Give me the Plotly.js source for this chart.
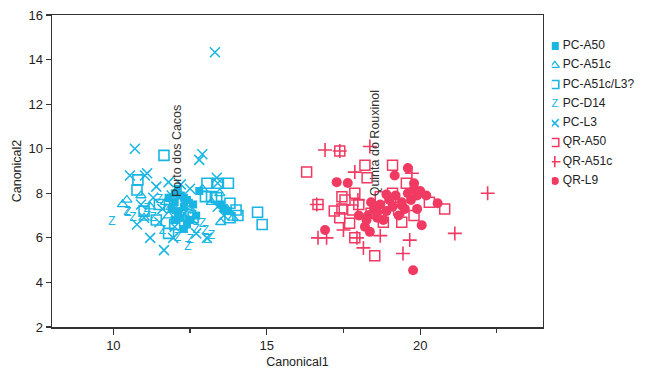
<!DOCTYPE html>
<html><head><meta charset="utf-8">
<script src="https://cdn.plot.ly/plotly-3.0.1.min.js"></script>
<style>html,body{margin:0;padding:0;background:#fff}#chart{width:649px;height:378px}</style>
</head><body><div id="chart"></div>
<script>
// ---- data ----
const seriesNames = ["PC-A50","PC-A51c","PC-A51c/L3?","PC-D14","PC-L3","QR-A50","QR-A51c","QR-L9"];
const groupLabels = ["Porto dos Cacos","Quinta do Rouxinol"];

const pcA50_x = [12.0,12.1,12.2,12.0,12.3,12.1,12.4,11.9,12.2,12.4,12.3,12.5,12.6,13.5,13.6,13.7,12.8,11.8,12.0,12.7,12.1,12.3];
const pcA50_y = [8.0,8.2,7.9,7.6,7.4,7.2,7.7,7.3,6.9,6.6,6.4,6.8,7.5,7.5,7.3,7.2,8.1,7.8,6.8,7.0,7.0,7.8];

const pcA51c_x = [10.44,13.47,13.7,13.9,11.2,11.7,12.2,12.5,13.2,11.0,11.8,12.9,13.5,10.9,10.3];
const pcA51c_y = [7.7,8.0,7.3,6.9,7.4,7.6,7.9,7.3,7.6,6.9,7.0,8.2,6.7,7.9,7.5];

const pcA51cL3_x = [11.65,14.7,14.85,13.05,13.4,13.75,13.0,13.2,13.37,13.8,14.0,14.06,13.8,10.8,10.77,11.5,12.2,11.0,12.0,11.4,12.6,11.8,12.4];
const pcA51cL3_y = [9.7,7.15,6.6,8.45,8.45,8.45,7.85,7.85,7.8,7.55,7.25,7.0,6.9,8.6,8.15,7.5,7.0,7.2,6.6,6.8,6.9,6.2,7.5];

const pcD14_x = [9.95,10.44,10.64,10.47,12.43,13.05,12.7,12.5,11.3,11.8,12.3,11.6,12.1,12.9,11.1,12.0,13.0,12.6,11.5,13.2];
const pcD14_y = [6.7,7.15,6.9,7.1,5.6,5.9,6.35,5.9,6.9,7.4,7.6,6.3,6.0,6.6,7.3,7.2,6.3,7.0,7.7,6.1];

const pcL3_x = [13.31,10.7,12.9,12.8,10.54,11.03,13.37,13.4,11.65,11.2,10.77,11.95,12.7,13.05,11.1,11.3,11.6,11.9,12.3,11.0,12.5,11.4,12.0,12.6,13.4,13.6,10.9,12.2,11.8,11.5];
const pcL3_y = [14.33,10.0,9.75,9.5,8.8,8.8,8.7,8.45,5.45,6.0,6.6,6.0,6.2,6.0,8.9,7.8,7.3,7.9,7.1,6.9,8.2,8.3,6.5,6.8,7.4,7.0,7.5,8.4,8.5,6.7];

const qrA50_x = [16.3,17.38,16.67,18.2,19.1,18.52,17.87,20.8,17.45,17.38,17.87,18.8,19.4,17.45,17.8,18.27,19.55,19.1,19.3,18.7,17.55,17.7,18.0,18.4,19.8,20.3,17.2];
const qrA50_y = [8.95,9.9,7.5,9.26,9.26,5.2,6.0,7.3,7.85,6.9,8.0,6.7,6.7,7.3,7.25,8.7,8.45,8.0,7.25,7.85,7.7,6.65,7.5,7.1,7.0,7.6,7.2];

const qrA51c_x = [16.9,18.36,17.87,22.2,21.13,16.67,16.95,17.5,18.15,19.66,19.44,18.7,17.94,19.73,16.63,17.38,17.97,18.5,19.2];
const qrA51c_y = [9.94,10.1,8.95,8.0,6.2,6.0,6.0,6.35,5.55,5.9,5.3,6.1,6.0,8.9,7.5,9.9,7.7,7.2,7.6];

const qrL9_x = [19.6,19.17,17.28,17.64,16.9,19.77,20.05,20.57,20.2,18.36,18.2,19.8,19.9,18.3,18.5,18.7,18.9,19.0,19.2,19.4,19.6,19.8,19.3,19.5,18.8,18.6,19.1,19.7,18.4,18.0,19.9,20.0,18.25,18.9,19.4,18.6];
const qrL9_y = [9.13,8.8,8.5,8.46,6.35,4.55,6.57,7.55,7.9,6.27,6.5,8.45,7.3,7.0,7.3,7.5,7.2,7.7,7.9,7.6,8.0,8.2,7.0,7.3,6.8,6.9,7.4,7.7,7.6,7.0,7.9,8.1,6.8,7.95,7.45,7.15];

const yTicks = [2,4,6,8,10,12,14,16];
const xTicks = [10,15,20];

// ---- styling ----
const CYAN = "#19b5e3", RED = "#f03a62";
const FONT = "Liberation Sans, Arial, sans-serif";
const styles = [
  {c:CYAN, symbol:"square", size:8, lw:0},
  {c:CYAN, symbol:"triangle-up-open", size:9, lw:1.3},
  {c:CYAN, symbol:"square-open", size:10, lw:1.6},
  {c:CYAN, text:"Z"},
  {c:CYAN, symbol:"x-thin", size:10, lw:1.5},
  {c:RED, symbol:"square-open", size:10, lw:1.5},
  {c:RED, symbol:"cross-thin", size:10, lw:1.6},
  {c:RED, symbol:"circle", size:10, lw:0}
];
const xs = [pcA50_x,pcA51c_x,pcA51cL3_x,pcD14_x,pcL3_x,qrA50_x,qrA51c_x,qrL9_x];
const ys = [pcA50_y,pcA51c_y,pcA51cL3_y,pcD14_y,pcL3_y,qrA50_y,qrA51c_y,qrL9_y];

function mkTrace(x, y, s, name, axes, tsize) {
  const t = {x, y, name, showlegend:false, hoverinfo:"skip", type:"scatter"};
  if (axes) { t.xaxis = "x2"; t.yaxis = "y2"; }
  if (s.text) {
    t.mode = "text";
    t.text = x.map(() => s.text);
    t.textfont = {family: FONT, size: tsize || 12, color: s.c};
    t.textposition = "middle center";
  } else {
    t.mode = "markers";
    t.marker = {symbol: s.symbol, size: s.size, color: s.c,
                line: {color: s.c, width: s.lw}};
  }
  return t;
}

const traces = [];
seriesNames.forEach((n, i) => traces.push(mkTrace(xs[i], ys[i], styles[i], n, false, 12)));

// legend drawn on hidden axes at the right
seriesNames.forEach((n, i) => {
  const s = Object.assign({}, styles[i]);
  if (!s.text) s.size = Math.min(s.size, 8);
  traces.push(mkTrace([0], [-i], s, n, true, 11));
});
traces.push({
  type:"scatter", mode:"text", xaxis:"x2", yaxis:"y2", showlegend:false, hoverinfo:"skip",
  x: seriesNames.map(() => 8), y: seriesNames.map((n,i) => -i), text: seriesNames,
  textposition: "middle right", textfont: {family: FONT, size: 12, color: "#222"}
});

function mean(a){return a.reduce((p,c)=>p+c,0)/a.length;}
const pcX = [].concat(...xs.slice(0,5)), pcY = [].concat(...ys.slice(0,5));
const qrX = [].concat(...xs.slice(5)), qrY = [].concat(...ys.slice(5));

const layout = {
  width: 649, height: 378,
  margin: {l:52, r:2, t:15, b:51},
  paper_bgcolor: "#fff", plot_bgcolor: "#fff",
  font: {family: FONT, size: 12, color: "#222"},
  showlegend: false,
  xaxis: {
    domain: [0, 0.825], range: [8, 24], tickvals: xTicks, ticktext: xTicks.map(String),
    ticks: "outside", ticklen: 6, tickwidth: 1.2, tickcolor: "#333",
    minor: {tickvals: [12.5, 17.5, 22.5], ticks: "outside", ticklen: 4, tickwidth: 1.2, tickcolor: "#333"},
    showline: true, mirror: true, linecolor: "#333", linewidth: 1.5,
    showgrid: false, zeroline: false,
    tickfont: {size: 13, color: "#222"},
    title: {text: "Canonical1", font: {size: 12.5, color: "#222"}, standoff: 5}
  },
  yaxis: {
    range: [2, 16], tickvals: yTicks, ticktext: yTicks.map(String),
    ticks: "outside", ticklen: 5, tickwidth: 1.2, tickcolor: "#333",
    showline: true, mirror: true, linecolor: "#333", linewidth: 1.5,
    showgrid: false, zeroline: false,
    tickfont: {size: 13, color: "#222"},
    title: {text: "Canonical2", font: {size: 12.5, color: "#222"}, standoff: 4}
  },
  xaxis2: {domain: [0.84, 1], range: [-3, 92], visible: false, fixedrange: true},
  yaxis2: {domain: [0, 1], range: [-14.57, 1.607], visible: false, fixedrange: true, anchor: "x2"},
  annotations: [
    {x: mean(pcX) - 0.15, y: mean(pcY) + 0.3, xref: "x", yref: "y", text: groupLabels[0],
     textangle: -90, showarrow: false, xanchor: "center", yanchor: "bottom",
     font: {family: FONT, size: 12.5, color: "#333"}},
    {x: mean(qrX) - 0.15, y: mean(qrY) + 0.3, xref: "x", yref: "y", text: groupLabels[1],
     textangle: -90, showarrow: false, xanchor: "center", yanchor: "bottom",
     font: {family: FONT, size: 12.5, color: "#333"}}
  ]
};

Plotly.newPlot("chart", traces, layout, {displayModeBar: false, staticPlot: true});
</script></body></html>
